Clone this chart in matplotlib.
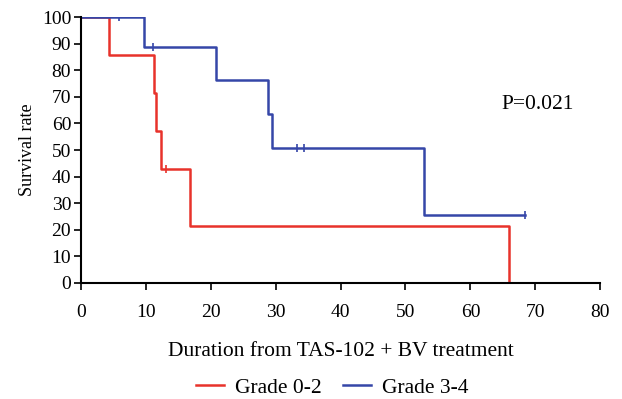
import matplotlib
matplotlib.use("Agg")
import matplotlib.pyplot as plt

# Kaplan-Meier step data (time, survival %)
red_t = [0, 4.4, 11.3, 11.6, 12.3, 16.8, 66.0]
red_s = [100, 85.7, 71.4, 57.1, 42.9, 21.4, 0]
red_end = 66.0
red_cens_t = [13.1]
red_cens_s = [42.9]

blue_t = [0, 9.8, 20.8, 28.9, 29.4, 52.8]
blue_s = [100, 88.9, 76.2, 63.5, 50.8, 25.4]
blue_end = 68.4
blue_cens_t = [5.9, 11.1, 33.3, 34.4, 68.4]
blue_cens_s = [100, 88.9, 50.8, 50.8, 25.4]

RED = "#e8322b"
BLUE = "#3546a8"

plt.rcParams["font.family"] = ["Liberation Serif", "DejaVu Serif"]

fig = plt.figure(figsize=(6.22, 3.99), dpi=100)
ax = fig.add_axes([0.130, 0.291, 0.835, 0.666])

ax.step(red_t + [red_end], red_s + [red_s[-1]], where="post", color=RED, lw=1.8,
        label="Grade 0-2")
ax.step(blue_t + [blue_end], blue_s + [blue_s[-1]], where="post", color=BLUE, lw=1.8,
        label="Grade 3-4")
ax.plot(red_cens_t, red_cens_s, ls="none", marker="|", ms=6, mew=1.2, color=RED)
ax.plot(blue_cens_t, blue_cens_s, ls="none", marker="|", ms=6, mew=1.2, color=BLUE)

ax.set_xlim(0, 80)
ax.set_ylim(0, 100)
ax.set_xticks(range(0, 81, 10))
ax.set_yticks(range(0, 101, 10))
ax.spines["top"].set_visible(False)
ax.spines["right"].set_visible(False)
ax.spines["left"].set_linewidth(1.5)
ax.spines["bottom"].set_linewidth(1.5)
ax.tick_params(direction="out", length=5, width=1.2, labelsize=14, pad=2)
ax.tick_params(axis="x", pad=10)
ax.margins(0)

ax.set_xlabel("Duration from TAS-102 + BV treatment", fontsize=15.5, labelpad=15)
ax.set_ylabel("Survival rate", fontsize=13, labelpad=4)
ax.text(70.4, 67, "P=0.021", fontsize=15.5, ha="center", va="center")

fig.legend(*ax.get_legend_handles_labels(), loc="center", bbox_to_anchor=(0.534, 0.028),
           ncol=2, frameon=False, fontsize=15.5, handlelength=1.3, columnspacing=1.0,
           handletextpad=0.5)

fig.savefig("out.png", dpi=100)
